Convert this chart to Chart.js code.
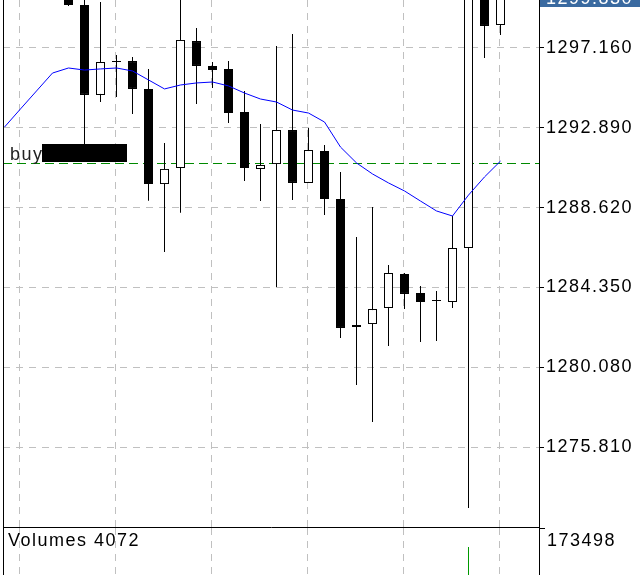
<!DOCTYPE html>
<html>
<head>
<meta charset="utf-8">
<script src="https://cdn.jsdelivr.net/npm/chart.js@4.4.0/dist/chart.umd.min.js"></script>
<style>
    html, body { margin: 0; padding: 0; background: #fff; overflow: hidden; }
    #wrap { position: relative; width: 640px; height: 575px; overflow: hidden; }
    #priceChart { position: absolute; left: 0; top: 0; }
    #volumeChart { position: absolute; left: 0; top: 528px; }
</style>
</head>
<body>
<div id="wrap">
    <canvas id="priceChart" width="640" height="528"></canvas>
    <canvas id="volumeChart" width="640" height="120"></canvas>
</div>
<script>
// Bar positions on the chart (first four bars are above the visible price range)
const bars = [0, 1, 2, 3, 4, 5, 6, 7, 8, 9, 10, 11, 12, 13, 14, 15,
    16, 17, 18, 19, 20, 21, 22, 23, 24, 25, 26, 27, 28, 29, 30, 31];

const opens = [null, null, null, null,
    1300.26, 1299.46, 1294.65, 1296.41, 1296.46, 1294.97, 1289.88, 1290.74,
    1297.53, 1296.20, 1296.04, 1293.74, 1290.69, 1290.95, 1292.77, 1289.94,
    1291.65, 1289.08, 1282.34, 1282.39, 1283.25, 1285.07, 1284.05, 1283.62,
    1283.57, 1286.46, 1300.90, 1298.39];
const highs = [null, null, null, null,
    1300.80, 1300.80, 1299.62, 1296.79, 1296.68, 1296.04, 1292.08, 1300.80,
    1298.23, 1296.41, 1296.46, 1294.86, 1293.09, 1297.27, 1297.91, 1292.88,
    1291.97, 1290.53, 1287.05, 1288.65, 1285.55, 1285.12, 1284.43, 1284.16,
    1288.17, 1301.50, 1301.30, 1300.20];
const lows = [null, null, null, null,
    1299.41, 1291.70, 1294.27, 1294.54, 1293.63, 1288.99, 1286.24, 1288.35,
    1294.16, 1295.02, 1293.15, 1290.04, 1288.97, 1284.37, 1289.03, 1289.94,
    1288.22, 1281.64, 1279.13, 1277.15, 1281.21, 1283.19, 1281.43, 1281.48,
    1283.25, 1272.55, 1296.62, 1297.86];
const closes = [null, null, null, null,
    1299.46, 1294.65, 1296.41, 1296.41, 1294.97, 1289.88, 1290.69, 1297.59,
    1296.20, 1295.98, 1293.68, 1290.74, 1290.90, 1292.77, 1289.94, 1291.70,
    1289.08, 1282.18, 1282.23, 1283.19, 1285.12, 1284.00, 1283.57, 1283.62,
    1286.46, 1300.90, 1298.34, 1299.83];

// Moving average
const maValues = [1292.93, 1293.90, 1294.86, 1295.82, 1296.09, 1295.98, 1296.04, 1296.09,
    1295.93, 1295.45, 1294.97, 1295.18, 1295.29, 1295.34, 1295.13, 1294.75,
    1294.43, 1294.27, 1293.84, 1293.68, 1293.20, 1291.86, 1291.01, 1290.42,
    1289.94, 1289.51, 1288.97, 1288.44, 1288.17, 1289.29, 1290.26, 1291.11];

// Volumes (only the ones that reach into the visible strip)
const volumes = [null, null, null, null, null, null, null, null, null, null, null, null,
    null, null, null, null, null, null, null, null, null, null, null, null,
    null, null, null, null, null, 173498, null, 4072];

// Axis ticks
const priceTicks = [1275.81, 1280.08, 1284.35, 1288.62, 1292.89, 1297.16];
const gridBars = [0.9375, 6.9375, 12.9375, 18.9375, 24.9375, 30.9375];

// Pending order line
const orderPrice = 1290.99;
const orderLabel = 'buy';

// View window
const xMin = -0.09375;
const xMax = 33.40625;
const yMin = 1271.53;
const yMax = 1299.728;

const gridColor = '#c0c0c0';
const gridDash = [7, 6];
const textFont = '18px "Liberation Sans"';

Chart.defaults.font.family = 'Liberation Sans';
Chart.defaults.font.size = 18;
Chart.defaults.color = '#000';

const visible = bars.filter(i => opens[i] !== null);
const wickPoints = visible.map(i => ({ x: i, y: [lows[i], highs[i]] }));
const bodyPoints = visible.map(i => ({ x: i, y: [opens[i], closes[i]] }));
const bodyFill = visible.map(i => (closes[i] >= opens[i] ? '#ffffff' : '#000000'));
const maPoints = bars.map(i => ({ x: i, y: maValues[i] }));
const volPoints = bars.filter(i => volumes[i] !== null).map(i => ({ x: i, y: volumes[i] }));

// Drawing helpers in the terminal's style
const terminalOverlay = {
    id: 'terminalOverlay',
    beforeDraw(chart) {
        chart.ctx.letterSpacing = '1.5px';
    },
    beforeDatasetsDraw(chart) {
        const { ctx, chartArea: a, scales: { y } } = chart;
        const py = Math.round(y.getPixelForValue(orderPrice)) + 0.5;
        ctx.save();
        ctx.strokeStyle = '#008a00';
        ctx.lineWidth = 1;
        ctx.setLineDash([9, 5]);
        ctx.beginPath();
        ctx.moveTo(a.left, py);
        ctx.lineTo(a.right, py);
        ctx.stroke();
        ctx.restore();
    },
    afterDatasetsDraw(chart) {
        const { ctx, scales: { y } } = chart;
        const py = Math.round(y.getPixelForValue(orderPrice));
        ctx.save();
        ctx.fillStyle = '#000';
        ctx.fillRect(42, py - 19, 85, 18);
        ctx.font = textFont;
        ctx.fillStyle = '#222';
        ctx.textBaseline = 'alphabetic';
        ctx.fillText(orderLabel, 10, py - 3);
        ctx.restore();
    },
    afterDraw(chart) {
        const { ctx, chartArea: a, scales: { y } } = chart;
        const last = closes[closes.length - 1];
        const cy = Math.round(y.getPixelForValue(last));
        ctx.save();
        ctx.fillStyle = '#000';
        ctx.fillRect(a.left, 0, 1, a.bottom);
        ctx.fillStyle = '#3a6aa0';
        ctx.fillRect(a.right + 1, cy - 9, 101, 18);
        ctx.fillStyle = '#fff';
        ctx.font = textFont;
        ctx.textBaseline = 'middle';
        ctx.fillText(last.toFixed(3), a.right + 7, cy + 1);
        ctx.restore();
    }
};

new Chart(document.getElementById('priceChart'), {
    type: 'bar',
    data: {
        datasets: [
            { type: 'line', data: maPoints, borderColor: '#0000ff', borderWidth: 1, pointRadius: 0, tension: 0, order: 0 },
            { data: bodyPoints, backgroundColor: bodyFill, borderColor: '#000', borderWidth: 1, borderSkipped: false,
              barThickness: 9, grouped: false, minBarLength: 1, inflateAmount: 0, order: 1 },
            { data: wickPoints, backgroundColor: '#000', borderWidth: 0, barThickness: 1, grouped: false, inflateAmount: 0, order: 2 }
        ]
    },
    options: {
        responsive: false,
        animation: false,
        events: [],
        layout: { padding: { left: 3, right: 0, top: 0, bottom: 0 } },
        plugins: { legend: { display: false }, tooltip: { enabled: false } },
        scales: {
            x: {
                type: 'linear',
                offset: false,
                min: xMin,
                max: xMax,
                afterBuildTicks: s => { s.ticks = gridBars.map(v => ({ value: v })); },
                afterFit: s => { s.height = 1; s.paddingLeft = 0; s.paddingRight = 0; },
                ticks: { display: false },
                grid: { color: gridColor, drawTicks: false, offset: false },
                border: { display: true, color: '#000', dash: gridDash }
            },
            y: {
                position: 'right',
                min: yMin,
                max: yMax,
                afterBuildTicks: s => { s.ticks = priceTicks.map(v => ({ value: v })); },
                afterFit: s => { s.width = 101; s.paddingTop = 0; s.paddingBottom = 0; },
                ticks: { callback: v => v.toFixed(3), color: '#000', padding: 2, autoSkip: false },
                grid: { color: gridColor, tickColor: '#000', tickLength: 5, tickBorderDash: [] },
                border: { display: true, color: '#000', dash: gridDash }
            }
        }
    },
    plugins: [terminalOverlay]
});

// Volumes sub-window
const volTop = Math.max(...volumes.filter(v => v !== null));
const volumeOverlay = {
    id: 'volumeOverlay',
    beforeDraw(chart) {
        chart.ctx.letterSpacing = '1.5px';
    },
    afterDraw(chart) {
        const { ctx, chartArea: a } = chart;
        ctx.save();
        ctx.fillStyle = '#000';
        ctx.fillRect(a.left, 0, 1, chart.height);
        ctx.fillRect(a.right, 0, 6, 1);
        ctx.font = textFont;
        ctx.textBaseline = 'middle';
        ctx.fillText('Volumes ' + volumes[volumes.length - 1], 8, 13);
        ctx.fillText(String(volTop), a.right + 8, 13);
        ctx.restore();
    }
};

new Chart(document.getElementById('volumeChart'), {
    type: 'bar',
    data: {
        datasets: [
            { data: volPoints, backgroundColor: '#009900', borderWidth: 0, barThickness: 1, grouped: false, inflateAmount: 0 }
        ]
    },
    options: {
        responsive: false,
        animation: false,
        events: [],
        layout: { padding: { left: 3, right: 0, top: 0, bottom: 0 } },
        plugins: { legend: { display: false }, tooltip: { enabled: false } },
        scales: {
            x: {
                type: 'linear',
                offset: false,
                min: xMin,
                max: xMax,
                afterBuildTicks: s => { s.ticks = gridBars.map(v => ({ value: v })); },
                afterFit: s => { s.height = 0; s.paddingLeft = 0; s.paddingRight = 0; },
                ticks: { display: false },
                grid: { color: gridColor, drawTicks: false, offset: false },
                border: { display: false, dash: gridDash }
            },
            y: {
                position: 'right',
                min: 0,
                max: volTop * 120 / 101,
                afterFit: s => { s.width = 101; s.paddingTop = 0; s.paddingBottom = 0; },
                ticks: { display: false },
                grid: { display: false },
                border: { display: true, color: '#000' }
            }
        }
    },
    plugins: [volumeOverlay]
});
</script>
</body>
</html>
